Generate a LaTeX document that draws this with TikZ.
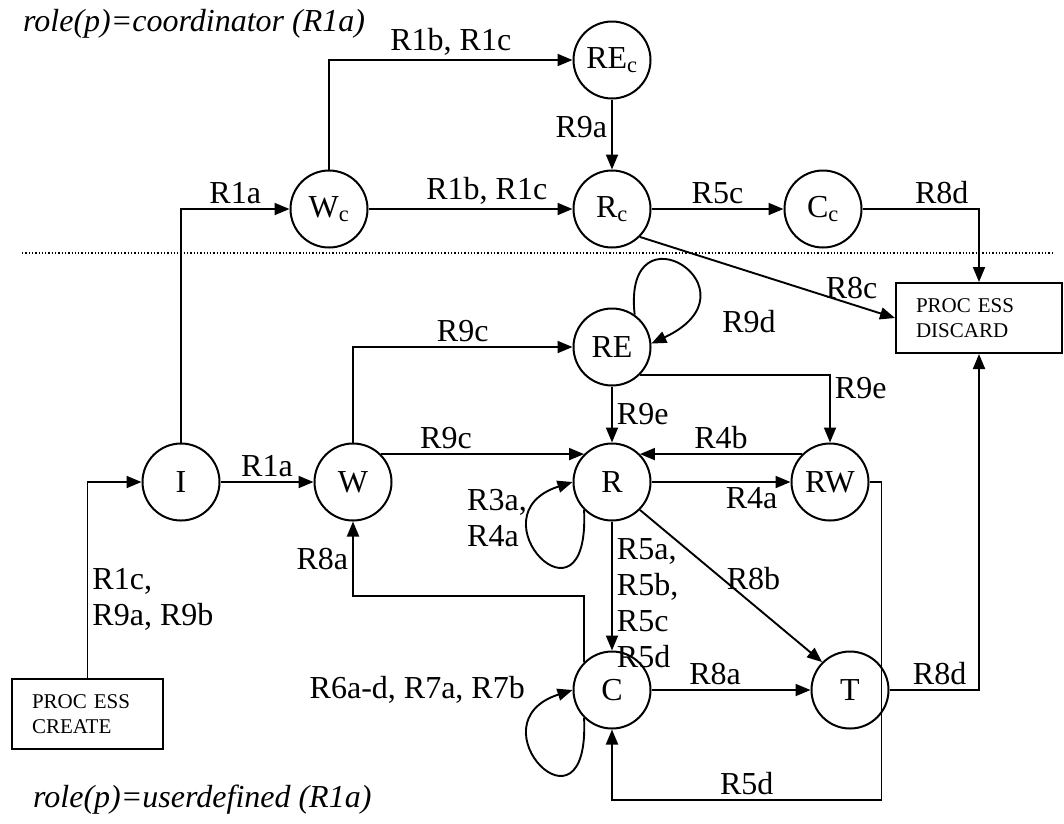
\documentclass[tikz,border=0pt]{standalone}
\usepackage{fontspec}
\setmainfont{Liberation Serif}
\usetikzlibrary{arrows.meta,positioning}
\tikzset{
    vertex/.style={circle, draw, line width=2pt, minimum size=77pt, inner sep=0pt, font=\fontsize{32}{37}\selectfont},
    edge/.style={draw, line width=1.9pt, -{Triangle[length=15pt,width=12pt]}},
    procbox/.style={rectangle, draw, line width=2pt, align=left, inner xsep=20pt, inner ysep=0pt, minimum height=70pt, font=\fontsize{21}{25}\selectfont},
    lbl/.style={font=\fontsize{32}{36}\selectfont, inner sep=4pt},
    role/.style={font=\fontsize{32}{37}\selectfont\itshape, anchor=west, inner sep=0pt}
}

\begin{document}
\begin{tikzpicture}[x=1pt, y=-1pt]
    \useasboundingbox (0,0) rectangle (1064,823);

    % Nodes
    \node[vertex] (I) at (181,482) {I};
    \node[vertex] (W) at (353,482) {W};
    \node[vertex] (R) at (612,482) {R};
    \node[vertex] (RW) at (830,482) {RW};
    \node[vertex] (RE) at (612,347) {RE};
    \node[vertex] (C) at (612,690) {C};
    \node[vertex] (T) at (850,690) {T};
    \node[vertex] (Wc) at (329,209) {W\textsubscript{c}};
    \node[vertex] (Rc) at (612,209) {R\textsubscript{c}};
    \node[vertex] (Cc) at (823,209) {C\textsubscript{c}};
    \node[vertex] (REc) at (612,60) {RE\textsubscript{c}};
    \node[procbox, text width=126pt] (discard) at (979,318) {PROC ESS\\DISCARD};
    \node[procbox, text width=111pt] (create) at (87.5,714) {PROC ESS\\CREATE};
    \node[role] (coordrole) at (23,24) {role(p)=coordinator (R1a)};
    \node[role] (userrole) at (33,800) {role(p)=userdefined (R1a)};
    \coordinate (cw) at (0,596);

    % separator
    \draw[line width=1.3pt, dash pattern=on 1.3pt off 2pt] (22,253) -- (1052,253);

    % coordinator edges
    \draw[edge] (I.north) |- (Wc.west) node[lbl, above, pos=0.75] {R1a};
    \draw[edge] (Wc.north) |- (REc.west) node[lbl, above, pos=0.75] {R1b, R1c};
    \draw[edge] (Wc) -- (Rc) node[lbl, above, pos=0.58] {R1b, R1c};
    \draw[edge] (REc) -- (Rc) node[lbl, left, pos=0.4] {R9a};
    \draw[edge] (Rc) -- (Cc) node[lbl, above, midway] {R5c};
    \draw[edge] (Cc.east) -| (discard.north) node[lbl, above, pos=0.34] {R8d};
    \draw[edge] (Rc.-45) -- (discard.west) node[lbl, above, pos=0.83] {R8c};

    % userdefined edges
    \draw[edge] (create.north) |- (I.west) node[lbl, right, pos=0.2, align=left] {R1c,\\R9a, R9b};
    \draw[edge] (I) -- (W) node[lbl, above, midway] {R1a};
    \draw[edge] (W.north) |- (RE.west) node[lbl, above, pos=0.75] {R9c};
    \draw[edge] (W.45) -- (R.135) node[lbl, above, pos=0.32] {R9c};
    \draw[edge] (RE.55) .. controls (622,200) and (765,290) .. (RE.5);
    \node[lbl] (loopre) at (749,322) {R9d};
    \draw[edge] (RE) -- (R) node[lbl, right, midway] {R9e};
    \draw[edge] (RE.-45) -| (RW.north) node[lbl, right, pos=0.6] {R9e};
    \draw[edge] (RW.135) -- (R.45) node[lbl, above, midway] {R4b};
    \draw[edge] (R) -- (RW) node[lbl, below, pos=0.72] {R4a};
    \draw[edge] (R.-135) .. controls (590,640) and (470,515) .. (R.180);
    \node[lbl, anchor=west, align=left] (loopr) at (463,518) {R3a,\\R4a};
    \draw[edge] (R) -- (C) node[lbl, right, pos=0.63, align=left] {R5a,\\R5b,\\R5c\\R5d};
    \draw[edge] (R.-45) -- (T.135) node[lbl, right, pos=0.45] {R8b};
    \draw[edge] (C.135) -- (C.135 |- cw) -| (W.south) node[lbl, left, pos=0.75] {R8a};
    \draw[edge] (C) -- (T) node[lbl, above, pos=0.4] {R8a};
    \draw[edge] (C.-135) .. controls (590,848) and (470,723) .. (C.180);
    \node[lbl, anchor=east] (loopc) at (529,690) {R6a-d, R7a, R7b};
    \draw[edge] (T.east) -| (discard.south) node[lbl, above, pos=0.28] {R8d};
    \draw[edge] (RW.east) -- ++(12,0) -- ++(0,318) -| (C.south) node[lbl, above, pos=0.25] {R5d};
\end{tikzpicture}
\end{document}
